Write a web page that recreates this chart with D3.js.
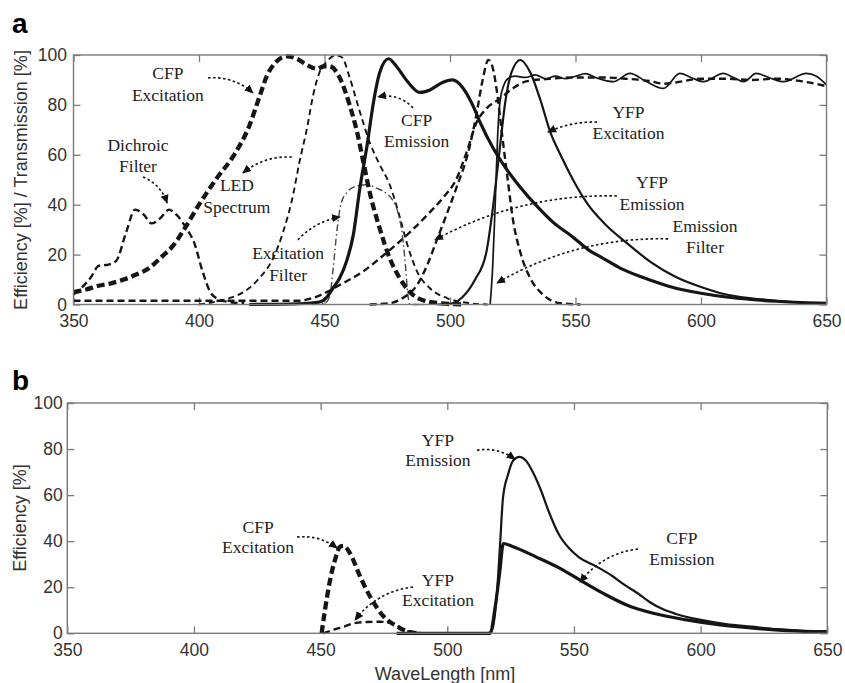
<!DOCTYPE html>
<meta charset="utf-8">
<style>
    body {
        margin: 0;
        background: #fff;
    }

    .frame {
        fill: none;
        stroke: #7a7a7a;
        stroke-width: 1.4px;
    }

    .axis .domain {
        display: none;
    }

    .axis line {
        stroke: #7a7a7a;
        stroke-width: 1.3px;
    }

    .axis text {
        font-family: Arial, "Liberation Sans", sans-serif;
        font-size: 17.5px;
        fill: #333;
    }

    .curve {
        fill: none;
        stroke: #151515;
        stroke-linejoin: round;
    }

    .heavyDash { stroke-width: 4.3px; stroke-dasharray: 8, 4; }
    .medDash { stroke-width: 2.4px; stroke-dasharray: 7, 4; }
    .thinDash { stroke-width: 1.9px; stroke-dasharray: 6, 4; }
    .dashDot { stroke-width: 1.4px; stroke-dasharray: 7, 3, 1.5, 3; stroke: #444 !important; }
    .thickSolid { stroke-width: 3.2px; }
    .medSolid { stroke-width: 2.2px; }
    .thinSolid { stroke-width: 1.7px; }

    .note {
        font-family: "Liberation Serif", "Times New Roman", serif;
        font-size: 17.5px;
        fill: #222;
    }

    .arrow {
        fill: none;
        stroke: #111;
        stroke-width: 1.6px;
        stroke-dasharray: 2.5, 2.5;
    }

    .panel {
        font-family: Arial, "Liberation Sans", sans-serif;
        font-weight: bold;
        font-size: 28px;
    }

    .title {
        font-family: Arial, "Liberation Sans", sans-serif;
        font-size: 18px;
        fill: #333;
    }
</style>

<body>
    <script src="https://cdn.jsdelivr.net/npm/d3@7"></script>
    <script>
        // tick values
        var wlTicks = [350, 400, 450, 500, 550, 600, 650];
        var pctTicks = [0, 20, 40, 60, 80, 100];

        // panel a curves: [wavelength nm, percent]
        var cfpExcA = [[350, 5], [355, 6], [360, 7.5], [365, 8.5], [370, 10], [375, 12], [380, 14.5], [385, 19], [390, 24], [394, 30], [400, 40], [407, 50.5], [414, 60], [420, 71.5], [424, 83], [427, 91.5], [431, 97.5], [435, 99.5], [439, 98.5], [443, 96], [447, 94.5], [450, 95.5], [452, 95.5], [456, 91], [460, 80], [463, 69], [465.5, 57], [468, 45], [472, 30.5], [476, 18.5], [480, 10.5], [484, 5], [489, 1.8], [496, 0.5], [505, 0]];
        var dichroicLowA = [[350, 4], [353, 6.5], [357, 11], [360, 15.5], [364, 16], [367, 17.5], [371, 29], [374.5, 38], [378, 36], [381, 32.5], [384.5, 34.5], [388, 38], [391, 36], [395, 30.5], [398, 25], [401.5, 13], [404.5, 5], [408, 2], [412, 1], [418, 0.5]];
        var dichroicPassA = [[350, 1.5], [440, 1.5], [445, 2.5], [450, 4.5], [456, 7.8], [465, 13], [475, 21], [483, 28], [492, 37], [497, 42.5], [502.7, 50.6], [506.6, 61], [510.6, 73], [514.6, 78.6], [520, 82.6], [525, 86.6], [530, 89.3], [540, 90.5], [550, 91], [560, 91], [570, 90.5], [580, 89.5], [585, 88.5], [590, 89], [600, 90.5], [610, 90.5], [620, 90], [630, 90.5], [640, 89.5], [650, 87.5]];
        var ledA = [[400, 0], [405, 0.8], [412, 2.5], [419, 5.8], [424, 10.5], [429.5, 18.5], [433.5, 29], [437.5, 44], [440, 57], [443, 70.5], [445.5, 84], [448, 93], [451, 97.5], [454.5, 99.8], [457, 99], [460, 91], [464, 77.5], [468, 65], [472, 56], [476, 48], [480, 35], [483, 24], [487, 13], [492, 6.5], [499, 2.5], [508, 0.5], [515, 0]];
        var excFilterA = [[445, 0], [450, 0.5], [452, 3], [453.5, 15], [455, 30], [456.5, 40], [459, 45], [463, 47.5], [467, 48], [471, 46.5], [474, 45], [477, 42], [479.5, 36], [481, 28], [482.3, 15], [483.2, 4], [484, 0], [490, 0]];
        var cfpEmA = [[420, 0], [440, 0.3], [448, 1], [451, 3], [453, 6], [456, 10.5], [459, 18], [461.5, 28], [464, 46], [467, 64], [469.5, 81], [472, 93], [475.5, 98.5], [479, 95], [483, 89.5], [488, 85], [492, 86], [497, 89], [501, 90], [505, 87], [509, 80], [512, 73], [517, 63], [522, 55], [528, 47], [535, 39], [541, 33], [549, 27], [555, 22], [561, 18.5], [568, 14.5], [575, 11.5], [582, 9], [590, 6.5], [600, 4.5], [610, 3], [620, 2], [630, 1.3], [640, 0.8], [650, 0.5]];
        var yfpExcA = [[495, 0], [501, 0.5], [505, 3], [510, 10], [514.5, 21], [517, 38], [520, 64], [522, 81], [524.5, 93], [528, 98], [532, 93], [536, 82], [540, 69], [544, 60], [549, 50], [555, 40], [562, 32], [570, 25], [580, 17], [590, 11], [600, 7], [610, 4], [620, 2.5], [630, 1.5], [640, 0.8], [650, 0.5]];
        var yfpEmA = [[468, 0], [476, 0.5], [481, 2.5], [487, 8], [491, 16], [495, 26.5], [499, 37], [503, 48], [507, 60], [510.5, 76], [513, 90], [515.3, 98], [517, 95], [518.6, 86], [521, 66], [523, 50], [525, 34.5], [528, 21], [532, 10.5], [537, 4], [544, 0.5], [552, 0]];
        var emFilterA = [[516, 0], [517, 15], [518, 40], [519, 68], [520, 82], [521.5, 88], [523, 90.5], [526, 91.5], [530, 91], [534, 92], [538, 90.5], [542, 91.5], [546, 90.5], [550, 91.5], [554, 92.5], [558, 91], [565, 89.3], [571.7, 92.6], [578, 89.5], [585, 86.6], [591.6, 92.6], [596, 91], [601, 89.3], [608.9, 92.6], [613, 91], [617, 89.3], [622, 92.6], [627, 91], [633, 89.3], [642, 92.6], [646, 91.5], [650, 88]];

        // panel b curves
        var cfpExcB = [[450.4, 0], [451.7, 10], [453.7, 23], [455.7, 32], [457.7, 37.6], [459, 38], [461.6, 34.7], [465.6, 24.6], [469.5, 16], [474.8, 7.4], [480, 3.1], [484, 0.9], [489, 0]];
        var yfpExcB = [[451, 0], [455, 1.5], [460, 3.2], [463, 4.3], [468, 4.9], [473.4, 5], [477, 4.6], [480, 3.6], [482.6, 1.4], [486.6, 0.5], [490, 0]];
        var yfpEmB = [[516, 0], [517.5, 1], [519.5, 16], [520.8, 38], [522, 59], [524, 69], [526, 75], [528.5, 76.6], [531, 75], [534, 69.5], [537, 62], [540, 53], [544, 43], [548, 37], [552, 33], [558, 29.5], [565, 25], [570, 21], [575, 17.5], [580, 13.5], [585, 10.5], [590, 8.5], [600, 5.8], [610, 4], [620, 2.9], [630, 1.8], [640, 1.1], [650, 0.7]];
        var cfpEmB = [[480, 0], [516.9, 0], [518.9, 11.5], [520.8, 27.5], [522.1, 39], [526, 37.6], [535, 33.2], [544.5, 28.2], [552.4, 23.1], [561.6, 17.3], [570.8, 12.3], [581.3, 8.7], [594.5, 5.8], [607.7, 3.6], [620.8, 2.2], [634, 1.2], [650, 0.7]];

        // callouts, in data units (text centre, arrow start, arrow tip)
        var notesA = [
            { lines: ["CFP", "Excitation"], x: 387.6, y: 88.4, from: [403.6, 90.8], to: [421.5, 84.8], bend: 10 },
            { lines: ["Dichroic", "Filter"], x: 375.7, y: 59.7, from: [377.7, 51.1], to: [387.3, 40.7], bend: 8 },
            { lines: ["LED", "Spectrum"], x: 415.1, y: 43.5, from: [437, 59.1], to: [417.5, 52.7], bend: -10 },
            { lines: ["Excitation", "Filter"], x: 435.5, y: 16.2, from: [439.4, 25.9], to: [456.2, 35.1], bend: 8 },
            { lines: ["CFP", "Emission"], x: 486.7, y: 69.7, from: [485.3, 78.8], to: [471.3, 83.2], bend: -10 },
            { lines: ["YFP", "Excitation"], x: 571.1, y: 72.9, from: [558.6, 73.1], to: [539, 69.1], bend: -6 },
            { lines: ["YFP", "Emission"], x: 580.5, y: 44.7, from: [566.5, 43.5], to: [494, 25.9], bend: -25 },
            { lines: ["Emission", "Filter"], x: 601.6, y: 27.3, from: [586.9, 26.3], to: [518.7, 8.6], bend: -25 }
        ];
        var notesB = [
            { lines: ["CFP", "Excitation"], x: 425.3, y: 41.8, from: [440.7, 41.8], to: [456.5, 37], bend: 8 },
            { lines: ["YFP", "Emission"], x: 496.3, y: 79.5, from: [511.7, 79.5], to: [526.7, 75.6], bend: 8 },
            { lines: ["YFP", "Excitation"], x: 496.3, y: 18.8, from: [486.5, 20.1], to: [463.6, 5.8], bend: -14 },
            { lines: ["CFP", "Emission"], x: 592.6, y: 36.8, from: [575.3, 36.6], to: [552.4, 22.2], bend: -14 }
        ];

        var width = 845,
            height = 683;

        var svg = d3.select("body").append("svg")
            .attr("width", width)
            .attr("height", height);

        svg.append("defs").append("marker")
            .attr("id", "head")
            .attr("viewBox", "0 0 10 10")
            .attr("refX", 9)
            .attr("refY", 5)
            .attr("markerWidth", 9)
            .attr("markerHeight", 9)
            .attr("markerUnits", "userSpaceOnUse")
            .attr("orient", "auto")
            .append("path")
            .attr("d", "M0,0.5 L10,5 L0,9.5 Z")
            .attr("fill", "#111");

        function panel(box, series, notes, lineGap) {
            var x = d3.scaleLinear().domain([350, 650]).range([box.left, box.right]);
            var y = d3.scaleLinear().domain([0, 100]).range([box.bottom, box.top]);
            var g = svg.append("g");

            // inward ticks on all four sides, labels only bottom/left
            g.append("g").attr("class", "axis")
                .attr("transform", "translate(0," + box.bottom + ")")
                .call(d3.axisBottom(x).tickValues(wlTicks).tickSize(-7).tickPadding(10));
            g.append("g").attr("class", "axis")
                .attr("transform", "translate(0," + box.top + ")")
                .call(d3.axisTop(x).tickValues(wlTicks).tickSize(-7).tickFormat(""));
            g.append("g").attr("class", "axis")
                .attr("transform", "translate(" + box.left + ",0)")
                .call(d3.axisLeft(y).tickValues(pctTicks).tickSize(-7).tickPadding(box.pad));
            g.append("g").attr("class", "axis")
                .attr("transform", "translate(" + box.right + ",0)")
                .call(d3.axisRight(y).tickValues(pctTicks).tickSize(-7).tickFormat(""));

            var line = d3.line()
                .x(function (d) { return x(d[0]); })
                .y(function (d) { return y(d[1]); })
                .curve(d3.curveMonotoneX);

            g.append("g").selectAll("path")
                .data(series)
                .enter().append("path")
                .attr("class", function (s) { return "curve " + s.cls; })
                .attr("d", function (s) { return line(s.data); });

            g.append("rect").attr("class", "frame")
                .attr("x", box.left).attr("y", box.top)
                .attr("width", box.right - box.left)
                .attr("height", box.bottom - box.top);

            // callout text
            var note = g.append("g").selectAll("g")
                .data(notes)
                .enter().append("g");
            note.each(function (n) {
                var cx = x(n.x), cy = y(n.y);
                d3.select(this).selectAll("text")
                    .data(n.lines)
                    .enter().append("text")
                    .attr("class", "note")
                    .attr("text-anchor", "middle")
                    .attr("x", cx)
                    .attr("y", function (t, i) { return cy + (i - 0.5) * lineGap + 6; })
                    .text(function (t) { return t; });
            });
            // dotted curved arrows
            note.append("path")
                .attr("class", "arrow")
                .attr("marker-end", "url(#head)")
                .attr("d", function (n) {
                    var x0 = x(n.from[0]), y0 = y(n.from[1]),
                        x1 = x(n.to[0]), y1 = y(n.to[1]);
                    var dx = x1 - x0, dy = y1 - y0, len = Math.sqrt(dx * dx + dy * dy);
                    var mx = (x0 + x1) / 2 + n.bend * dy / len,
                        my = (y0 + y1) / 2 - n.bend * dx / len;
                    return "M" + x0 + "," + y0 + "Q" + mx + "," + my + " " + x1 + "," + y1;
                });
            return { x: x, y: y };
        }

        panel({ left: 73.5, right: 826.5, top: 55, bottom: 304.5, pad: 6.5 }, [
            { data: dichroicLowA, cls: "medDash" },
            { data: dichroicPassA, cls: "medDash" },
            { data: ledA, cls: "thinDash" },
            { data: excFilterA, cls: "dashDot" },
            { data: yfpEmA, cls: "medDash" },
            { data: emFilterA, cls: "thinSolid" },
            { data: yfpExcA, cls: "medSolid" },
            { data: cfpEmA, cls: "thickSolid" },
            { data: cfpExcA, cls: "heavyDash" }
        ], notesA, 21.5);

        panel({ left: 67.3, right: 827.3, top: 403, bottom: 633.3, pad: 4.5 }, [
            { data: yfpExcB, cls: "medDash" },
            { data: cfpExcB, cls: "heavyDash" },
            { data: yfpEmB, cls: "medSolid" },
            { data: cfpEmB, cls: "thickSolid" }
        ], notesB, 20.5);

        // panel letters and axis titles
        svg.append("text").attr("class", "panel").attr("x", 12).attr("y", 33).text("a");
        svg.append("text").attr("class", "panel").attr("x", 12).attr("y", 390).text("b");

        svg.append("text").attr("class", "title")
            .attr("text-anchor", "middle")
            .attr("transform", "translate(27,180) rotate(-90)")
            .text("Efficiency [%] / Transmission [%]");
        svg.append("text").attr("class", "title")
            .attr("text-anchor", "middle")
            .attr("transform", "translate(26,518) rotate(-90)")
            .text("Efficiency [%]");
        svg.append("text").attr("class", "title")
            .attr("text-anchor", "middle")
            .attr("x", 445).attr("y", 680)
            .text("WaveLength [nm]");
    </script>
</body>
